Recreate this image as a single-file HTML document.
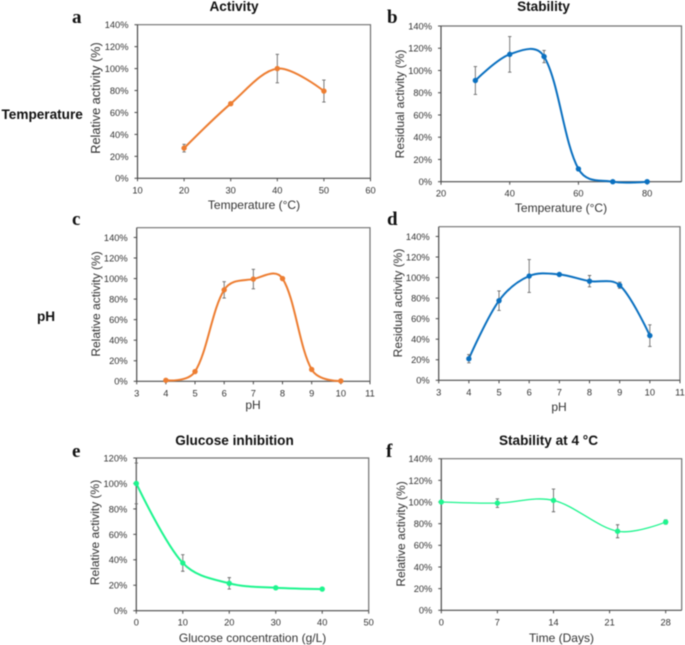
<!DOCTYPE html>
<html lang="en">
<head>
<meta charset="utf-8">
<title>Enzyme characterization panels</title>
<style>
html,body{margin:0;padding:0;background:#fff;width:685px;height:645px;overflow:hidden}
svg{display:block;filter:blur(0.45px)}
text{font-family:"Liberation Sans",Arial,sans-serif}
.tick{font-size:9.3px;fill:#333}
.axt{font-size:12px;fill:#333}
.ttl{font-size:13.6px;font-weight:bold;fill:#111}
.row{font-size:13.6px;font-weight:bold;fill:#111}
.let{font-family:"Liberation Serif",serif;font-size:19px;font-weight:bold;fill:#111}
</style>
</head>
<body>
<svg id="fig" xmlns="http://www.w3.org/2000/svg" width="685" height="645" viewBox="0 0 685 645">
<text class="row" x="1.5" y="119">Temperature</text>
<text class="row" x="37" y="321">pH</text>
<text class="let" x="72" y="23">a</text>
<text class="let" x="387" y="23">b</text>
<text class="let" x="72" y="225">c</text>
<text class="let" x="387" y="225">d</text>
<text class="let" x="72" y="457">e</text>
<text class="let" x="386" y="457">f</text>
<text class="ttl" x="234" y="11" text-anchor="middle">Activity</text>
<text class="ttl" x="543.5" y="11" text-anchor="middle">Stability</text>
<text class="ttl" x="234.5" y="445" text-anchor="middle">Glucose inhibition</text>
<text class="ttl" x="548.5" y="445" text-anchor="middle">Stability at 4 °C</text>
</svg>
<script>
const aCategories = [20, 30, 40, 50];
const aValues = [27.5, 68, 100, 79.5];
const aErrors = [3.5, 0.5, 13, 10];
const aXTicks = [10, 20, 30, 40, 50, 60];
const aYTicks = [0, 20, 40, 60, 80, 100, 120, 140];

const bCategories = [30, 40, 50, 60, 70, 80];
const bValues = [91, 114.5, 112.5, 11.5, 0, 0];
const bErrors = [12.5, 16, 5.5, 0.5, 0, 0];
const bXTicks = [20, 40, 60, 80];
const bYTicks = [0, 20, 40, 60, 80, 100, 120, 140];

const cCategories = [4, 5, 6, 7, 8, 9, 10];
const cValues = [1, 9.5, 89, 99.5, 100, 11.5, 0.3];
const cErrors = [0, 0, 8, 9.5, 0, 0, 0];
const cXTicks = [3, 4, 5, 6, 7, 8, 9, 10, 11];
const cYTicks = [0, 20, 40, 60, 80, 100, 120, 140];

const dCategories = [4, 5, 6, 7, 8, 9, 10];
const dValues = [21, 77.5, 101.5, 103, 96.5, 92.5, 43.5];
const dErrors = [4, 9.5, 16, 1.5, 5.5, 3, 10.5];
const dXTicks = [3, 4, 5, 6, 7, 8, 9, 10, 11];
const dYTicks = [0, 20, 40, 60, 80, 100, 120, 140];

const eCategories = [0, 10, 20, 30, 40];
const eValues = [100, 37.5, 21.5, 18, 17];
const eErrors = [16, 6.5, 4.5, 1, 0];
const eXTicks = [0, 10, 20, 30, 40, 50];
const eYTicks = [0, 20, 40, 60, 80, 100, 120];

const fCategories = [0, 7, 14, 22, 28];
const fValues = [100, 99, 101.5, 73, 81.5];
const fErrors = [0, 4, 10.5, 6, 2];
const fXTicks = [0, 7, 14, 21, 28];
const fYTicks = [0, 20, 40, 60, 80, 100, 120, 140];

const NS = 'http://www.w3.org/2000/svg';
const fig = document.getElementById('fig');

function add(parent, tag, attrs, txt) {
  const el = document.createElementNS(NS, tag);
  for (const k in attrs) el.setAttribute(k, attrs[k]);
  if (txt !== undefined) el.textContent = txt;
  parent.appendChild(el);
  return el;
}

function smoothPath(pts) {
  const n = pts.length;
  const dist = (a, b) => Math.hypot(a[0] - b[0], a[1] - b[1]);
  const ctrl = i => {
    const p = pts[i];
    if (i === 0 || i === n - 1) return { inn: p, out: p };
    const a = pts[i - 1], b = pts[i + 1];
    const d1 = dist(a, p), d2 = dist(p, b), s = d1 + d2 || 1;
    const tx = b[0] - a[0], ty = b[1] - a[1];
    const w1 = 0.55 * d1 / s + 0.45 * 0.5, w2 = 0.55 * d2 / s + 0.45 * 0.5;
    return {
      inn: [p[0] - tx * w1 / 3, p[1] - ty * w1 / 3],
      out: [p[0] + tx * w2 / 3, p[1] + ty * w2 / 3]
    };
  };
  let d = 'M' + pts[0][0].toFixed(2) + ' ' + pts[0][1].toFixed(2);
  for (let i = 0; i < n - 1; i++) {
    const c1 = ctrl(i).out, c2 = ctrl(i + 1).inn, p2 = pts[i + 1];
    d += 'C' + c1[0].toFixed(2) + ' ' + c1[1].toFixed(2) + ' ' + c2[0].toFixed(2) + ' ' + c2[1].toFixed(2) + ' ' + p2[0].toFixed(2) + ' ' + p2[1].toFixed(2);
  }
  return d;
}

function drawPanel(o) {
  const g = add(fig, 'g', {});
  
  
  const sx = v => o.left + (v - o.xMin) / (o.xMax - o.xMin) * (o.right - o.left);
  const sy = v => o.bottom - (v - 0) / o.yMax * (o.bottom - o.top);

  const frame = add(g, 'path', {
    d: 'M' + o.left + ' ' + o.top + 'H' + o.right + 'V' + o.bottom,
    fill: 'none', stroke: '#707070', 'stroke-width': 1.2
  });
  
  

  const xAxis = add(g, 'line', { x1: o.left, x2: o.right, y1: o.bottom, y2: o.bottom, stroke: '#4a4a4a', 'stroke-width': 1.2 });
  
  
  const yAxis = add(g, 'line', { x1: o.left, x2: o.left, y1: o.top, y2: o.bottom, stroke: '#4a4a4a', 'stroke-width': 1.2 });
  
  

  o.xTicks.forEach(v => {
    add(g, 'line', { x1: sx(v), x2: sx(v), y1: o.bottom, y2: o.bottom + 3, stroke: '#4a4a4a', 'stroke-width': 1 });
    const t = add(g, 'text', { class: 'tick', x: sx(v), y: o.bottom + 15, 'text-anchor': 'middle' }, String(v));
    
    
  });
  o.yTicks.forEach(v => {
    add(g, 'line', { x1: o.left - 3, x2: o.left, y1: sy(v), y2: sy(v), stroke: '#4a4a4a', 'stroke-width': 1 });
    const t = add(g, 'text', { class: 'tick', x: o.left - 9, y: sy(v) + 3.4, 'text-anchor': 'end' }, v + '%');
    
    
  });

  const xt = add(g, 'text', { class: 'axt', x: o.xTitleX, y: o.xTitleY, 'text-anchor': 'middle' }, o.xTitle);
  
  
  const yt = add(g, 'text', { class: 'axt', x: 0, y: 0, 'text-anchor': 'middle', style: 'font-size:' + o.yTitleSize + 'px', transform: 'translate(' + o.yTitleX + ' ' + o.yTitleY + ') rotate(-90)' }, o.yTitle);
  
  

  const pts = o.categories.map((c, i) => [sx(c), sy(o.values[i])]);

  const line = add(g, 'path', { d: smoothPath(pts), fill: 'none', stroke: o.color, 'stroke-width': o.width });
  
  

  o.categories.forEach((c, i) => {
    const err = o.errors[i];
    if (err > 0) {
      const x = sx(c), y1 = sy(o.values[i] + err), y2 = sy(o.values[i] - err);
      const eb = add(g, 'path', {
        d: 'M' + x + ' ' + y1 + 'V' + y2 + 'M' + (x - 1.7) + ' ' + y1 + 'H' + (x + 1.7) + 'M' + (x - 1.7) + ' ' + y2 + 'H' + (x + 1.7),
        fill: 'none', stroke: '#6a6a6a', 'stroke-width': 0.9
      });
      
      
    }
    const pt = add(g, 'circle', { cx: sx(c), cy: sy(o.values[i]), r: 2.7, fill: o.color });
    
    
  });
}

const ORANGE = '#ed7d31', BLUE = '#0a70c0', GREEN = '#1df58e';

drawPanel({ id: 'a', left: 137.5, right: 370.5, top: 24.7, bottom: 178.3, xMin: 10, xMax: 60, yMax: 140,
  categories: aCategories, values: aValues, errors: aErrors, xTicks: aXTicks, yTicks: aYTicks,
  color: ORANGE, width: 2, xTitle: 'Temperature (°C)', xTitleX: 254, xTitleY: 209, yTitle: 'Relative activity (%)', yTitleX: 100, yTitleY: 98, yTitleSize: 12.7 });

drawPanel({ id: 'b', left: 441, right: 681.5, top: 26, bottom: 181.7, xMin: 20, xMax: 90, yMax: 140,
  categories: bCategories, values: bValues, errors: bErrors, xTicks: bXTicks, yTicks: bYTicks,
  color: BLUE, width: 2, xTitle: 'Temperature (°C)', xTitleX: 561, xTitleY: 212, yTitle: 'Residual activity (%)', yTitleX: 404, yTitleY: 104, yTitleSize: 12 });

drawPanel({ id: 'c', left: 136.7, right: 370, top: 227.7, bottom: 381.3, xMin: 3, xMax: 11, yMax: 149.5,
  categories: cCategories, values: cValues, errors: cErrors, xTicks: cXTicks, yTicks: cYTicks,
  color: ORANGE, width: 2, xTitle: 'pH', xTitleX: 253, xTitleY: 409, yTitle: 'Relative activity (%)', yTitleX: 100, yTitleY: 304, yTitleSize: 12 });

drawPanel({ id: 'd', left: 438.7, right: 680, top: 226.7, bottom: 380.3, xMin: 3, xMax: 11, yMax: 149.5,
  categories: dCategories, values: dValues, errors: dErrors, xTicks: dXTicks, yTicks: dYTicks,
  color: BLUE, width: 2, xTitle: 'pH', xTitleX: 559, xTitleY: 411, yTitle: 'Residual activity (%)', yTitleX: 402, yTitleY: 303, yTitleSize: 12 });

drawPanel({ id: 'e', left: 136.3, right: 368.7, top: 458, bottom: 610.7, xMin: 0, xMax: 50, yMax: 120,
  categories: eCategories, values: eValues, errors: eErrors, xTicks: eXTicks, yTicks: eYTicks,
  color: GREEN, width: 2, xTitle: 'Glucose concentration (g/L)', xTitleX: 252.6, xTitleY: 642, yTitle: 'Relative activity (%)', yTitleX: 99, yTitleY: 532.5, yTitleSize: 12 });

drawPanel({ id: 'f', left: 441.3, right: 681.7, top: 458.7, bottom: 610.3, xMin: 0, xMax: 30, yMax: 140,
  categories: fCategories, values: fValues, errors: fErrors, xTicks: fXTicks, yTicks: fYTicks,
  color: GREEN, width: 1.3, xTitle: 'Time (Days)', xTitleX: 561.5, xTitleY: 642, yTitle: 'Relative activity (%)', yTitleX: 405, yTitleY: 534, yTitleSize: 12 });
</script>
</body>
</html>
